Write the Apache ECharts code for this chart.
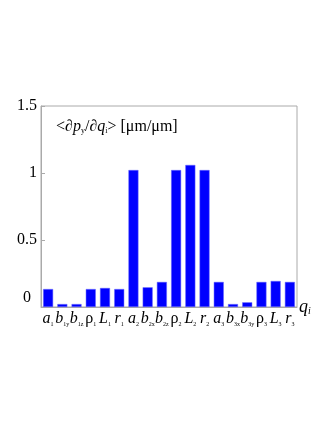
<!DOCTYPE html>
<html>
<head>
<meta charset="utf-8">
<script src="https://cdn.jsdelivr.net/npm/echarts@6/dist/echarts.min.js"></script>
<style>
  html, body { margin: 0; padding: 0; background: #fff; }
  #main { width: 327px; height: 423px; }
</style>
</head>
<body>
<div id="main"></div>
<script>
  // parameter names: [letter, subscript, letter italic?]
  var paramNames = [
    ['a', '1', true], ['b', '1y', true], ['b', '1z', true], ['ρ', '1', false], ['L', '1', true], ['r', '1', true],
    ['a', '2', true], ['b', '2x', true], ['b', '2z', true], ['ρ', '2', false], ['L', '2', true], ['r', '2', true],
    ['a', '3', true], ['b', '3x', true], ['b', '3y', true], ['ρ', '3', false], ['L', '3', true], ['r', '3', true]
  ]
  var sensitivity = [0.134, 0.022, 0.022, 0.134, 0.142, 0.134,
    1.022, 0.147, 0.187, 1.022, 1.06, 1.022,
    0.187, 0.022, 0.035, 0.187, 0.194, 0.187]
  var yTicks = [0, 0.5, 1, 1.5]

  var serif = '"Liberation Serif", "DejaVu Serif", serif'
  var categories = paramNames.map(function (p, i) { return 'p' + i })

  var chart = echarts.init(document.getElementById('main'))
  chart.setOption({
    animation: false,
    backgroundColor: '#fff',
    title: {
      text: '<∂{it|p}{sub|y}/∂{it|q}{sub|i}> [μm/μm]',
      left: 51,
      top: 114,
      textStyle: {
        fontFamily: serif,
        fontWeight: 'normal',
        fontSize: 16,
        color: '#000',
        rich: {
          it: { fontFamily: serif, fontStyle: 'italic', fontSize: 16, color: '#000' },
          sub: { fontFamily: serif, fontSize: 8, color: '#000', verticalAlign: 'bottom', padding: [7, 0, 0, 0] }
        }
      }
    },
    grid: {
      left: 41,
      right: 30,
      top: 106,
      bottom: 116,
      show: true,
      borderColor: '#aaa',
      borderWidth: 1
    },
    xAxis: {
      type: 'category',
      data: categories,
      name: '{it|q}{sub|i}',
      nameLocation: 'end',
      nameGap: 2,
      nameTextStyle: {
        verticalAlign: 'middle',
        rich: {
          it: { fontFamily: serif, fontStyle: 'italic', fontSize: 18, color: '#000' },
          sub: { fontFamily: serif, fontStyle: 'italic', fontSize: 10, color: '#000', verticalAlign: 'bottom', padding: [8, 0, 0, 0] }
        }
      },
      axisLine: { show: true, lineStyle: { color: '#aaa' } },
      axisTick: { show: false },
      axisLabel: {
        interval: 0,
        margin: 4,
        formatter: function (v, i) {
          var p = paramNames[i]
          return '{' + (p[2] ? 'it' : 'up') + '|' + p[0] + '}{sub|' + p[1] + '}'
        },
        rich: {
          it: { fontFamily: serif, fontStyle: 'italic', fontSize: 16, color: '#000' },
          up: { fontFamily: serif, fontSize: 16, color: '#000' },
          sub: { fontFamily: serif, fontSize: 6, color: '#000', verticalAlign: 'bottom', padding: [6, 0, 0, 0] }
        }
      }
    },
    yAxis: {
      type: 'value',
      min: 0,
      max: 1.5,
      interval: 0.5,
      axisLine: { show: true, lineStyle: { color: '#aaa' } },
      axisTick: { show: true, inside: true, length: 4, lineStyle: { color: '#aaa' } },
      splitLine: { show: false },
      axisLabel: {
        margin: 4,
        fontFamily: serif,
        fontSize: 16,
        color: '#000',
        formatter: function (v) {
          if (v === 0) return '{z|0}'
          return yTicks.indexOf(v) >= 0 ? String(v) : ''
        },
        rich: {
          z: { fontFamily: serif, fontSize: 16, color: '#000', padding: [0, 6, 18, 0] }
        }
      }
    },
    series: [{
      type: 'bar',
      data: sensitivity,
      barWidth: 10,
      itemStyle: { color: '#0000ff', borderColor: '#6b6bff', borderWidth: 0.5 }
    }]
  })
</script>
</body>
</html>
